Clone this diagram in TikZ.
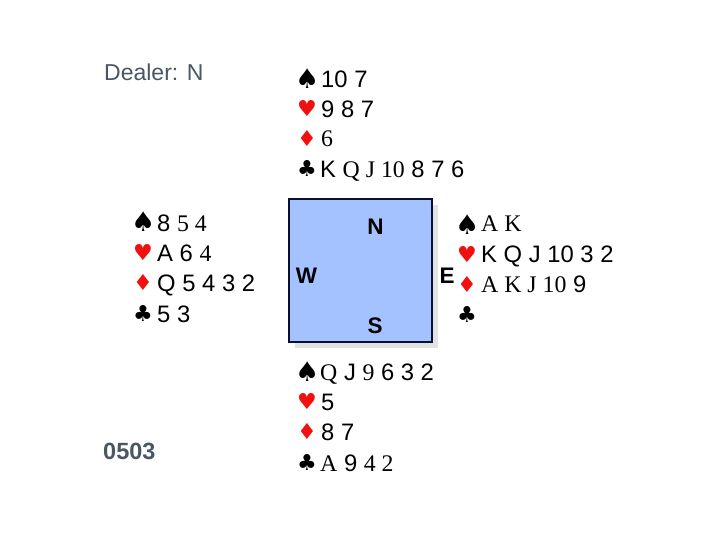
\documentclass[tikz,border=0pt]{standalone}
\usepackage{fontspec}
\setmainfont{Liberation Sans}
\newfontfamily\serf{Liberation Serif}
\newfontfamily\suitf{DejaVu Sans}
\definecolor{boxblue}{HTML}{A4C2FF}
\definecolor{boxline}{HTML}{0A1030}
\definecolor{shadowgray}{HTML}{E2E2E2}
\definecolor{slatetext}{HTML}{4A5664}
\definecolor{suitred}{HTML}{F01010}
\newcommand{\rs}[1]{{\serf #1}}
\tikzset{
  x=1pt,y=-1pt,
  hand/.style={anchor=base west,inner sep=0pt,font=\fontsize{23.8}{26}\selectfont,text=black},
  suit/.style={anchor=base west,inner sep=0pt,font=\fontsize{22}{24}\suitf},
  spadesuit/.style={anchor=base west,inner sep=0pt,font=\fontsize{27}{30}\suitf,text=black},
  blacksuit/.style={suit,text=black},
  redsuit/.style={suit,text=suitred},
  compass/.style={anchor=base,inner sep=0pt,font=\fontsize{22.5}{24}\selectfont\bfseries,text=black},
  note/.style={anchor=base west,inner sep=0pt,font=\fontsize{23}{26}\selectfont,text=slatetext},
}
\begin{document}
\begin{tikzpicture}
\useasboundingbox (0,0) rectangle (720,540);
% table
\fill[shadowgray] (295,205) rectangle (438,348);
\node[draw=boxline,line width=2pt,fill=boxblue,minimum width=143pt,minimum height=143pt,inner sep=0pt,anchor=north west,outer sep=0pt] (table) at (288.5,199) {};
\node[compass] (n) at (375.5,234) {N};
\node[compass] (w) at (306.5,283) {W};
\node[compass] (e) at (447,283) {E};
\node[compass] (s) at (375,333) {S};
% notes
\node[note] (dealer) at (104,81) {Dealer: N};
\node[note,font=\fontsize{23.5}{26}\selectfont\bfseries] (board) at (103,459) {0503};
% north
\node[spadesuit] (ns) at (295,89) {♠};
\node[hand] (nsc) at (321,88) {10 7};
\node[redsuit] (nh) at (297,117) {♥};
\node[hand] (nhc) at (321,118) {9 8 7};
\node[redsuit] (nd) at (297,147) {♦};
\node[hand] (ndc) at (321,147) {\rs{6}};
\node[blacksuit] (nc) at (297,177) {♣};
\node[hand] (ncc) at (320,178) {K \rs{Q J 10} 8 7 6};
% west
\node[spadesuit] (ws) at (131,232) {♠};
\node[hand] (wsc) at (157,231) {8 \rs{5 4}};
\node[redsuit] (wh) at (133,260) {♥};
\node[hand] (whc) at (157,261) {A 6 \rs{4}};
\node[redsuit] (wd) at (133,290) {♦};
\node[hand] (wdc) at (157,291) {Q 5 4 3 2};
\node[blacksuit] (wc) at (133,321) {♣};
\node[hand] (wcc) at (157,322) {5 3};
% east
\node[spadesuit] (es) at (455,234) {♠};
\node[hand] (esc) at (481,232) {\rs{A K}};
\node[redsuit] (eh) at (457,262) {♥};
\node[hand] (ehc) at (481,262) {K Q J 10 3 2};
\node[redsuit] (ed) at (457,292) {♦};
\node[hand] (edc) at (481,292) {\rs{A K J 10} 9};
\node[blacksuit] (ec) at (457,322) {♣};
% south
\node[spadesuit] (ss) at (295,381) {♠};
\node[hand] (ssc) at (320,380) {\rs{Q} J \rs{9} 6 3 2};
\node[redsuit] (sh) at (297,409) {♥};
\node[hand] (shc) at (321,410) {5};
\node[redsuit] (sd) at (297,439) {♦};
\node[hand] (sdc) at (321,440) {8 7};
\node[blacksuit] (sc) at (297,470) {♣};
\node[hand] (scc) at (320,471) {\rs{A} 9 \rs{4 2}};
\end{tikzpicture}
\end{document}
